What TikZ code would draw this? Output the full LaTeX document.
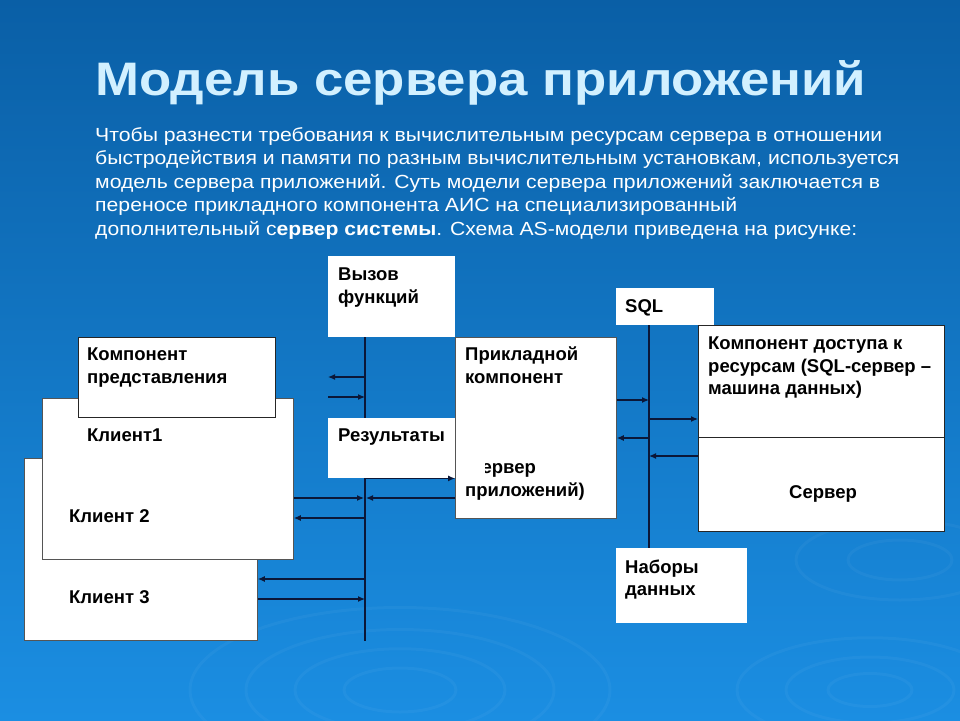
\documentclass[tikz,border=0pt]{standalone}
\usepackage{fontspec}
\setmainfont{Liberation Sans}
\usepackage{graphicx}
\usetikzlibrary{arrows.meta}
\definecolor{bgtop}{HTML}{0A5FA6}
\definecolor{bgbot}{HTML}{1B8EE2}
\definecolor{titlec}{HTML}{D2F0FF}
\definecolor{linec}{HTML}{0B1738}
\definecolor{edgec}{HTML}{555555}
\newcommand{\dtxt}{\fontsize{18.5}{23}\selectfont\bfseries}
\newcommand{\ptxt}{\fontsize{19}{23}\selectfont}
\begin{document}
\begin{tikzpicture}[x=1pt,y=-1pt,
  box/.style={draw=edgec, line width=0.8pt, fill=white, inner sep=0pt, anchor=north west},
  plain/.style={fill=white, inner sep=0pt, anchor=north west},
  darkbox/.style={draw=black!85, line width=1pt, fill=white, inner sep=0pt, anchor=north west},
  lbl/.style={inner sep=0pt, anchor=base west, text=black, font=\dtxt},
  para/.style={inner sep=0pt, anchor=base west, text=white},
  bus/.style={draw=linec, line width=1.4pt},
  arr/.style={draw=linec, line width=1.2pt, -{Latex[length=7pt,width=6pt]}},
  ripple/.style={draw=white, draw opacity=0.035, line width=3pt}
]
% background
\shade[top color=bgtop, bottom color=bgbot] (0,0) rectangle (960,720);
\useasboundingbox (0,0) rectangle (960,720);
\foreach \r in {40,75,110,150}{
  \draw[ripple] (400,690) ellipse ({\r*1.4} and {\r*0.55});
}
\foreach \r in {30,60,95}{
  \draw[ripple] (870,690) ellipse ({\r*1.4} and {\r*0.55});
}
\foreach \r in {40,80}{
  \draw[ripple] (900,560) ellipse ({\r*1.3} and {\r*0.5});
}

% title and paragraph
\node[para, text=titlec] (title) at (95,95)
  {\resizebox{771pt}{\height}{\fontsize{47}{50}\selectfont\bfseries Модель сервера приложений}};
\node[para] (p1) at (95,141) {\resizebox{787pt}{\height}{\ptxt Чтобы разнести требования к вычислительным ресурсам сервера в отношении}};
\node[para] (p2) at (95,164.5) {\resizebox{804pt}{\height}{\ptxt быстродействия и памяти по разным вычислительным установкам, используется}};
\node[para] (p3) at (95,188) {\resizebox{785pt}{\height}{\ptxt модель сервера приложений. Суть модели сервера приложений заключается в}};
\node[para] (p4) at (95,211.5) {\resizebox{642pt}{\height}{\ptxt переносе прикладного компонента АИС на специализированный}};
\node[para] (p5) at (95,235) {\resizebox{762pt}{\height}{\ptxt дополнительный с\textbf{ервер системы}. Схема AS-модели приведена на рисунке:}};

% bus coordinates
\coordinate (bus1) at (365,0);
\coordinate (bus2) at (649,0);

% boxes
\node[box, minimum width=233pt, minimum height=182pt] (kl3) at (24,458) {};
\node[box, minimum width=251pt, minimum height=161pt] (kl1) at (42,398) {};
\node[darkbox, minimum width=197pt, minimum height=80pt] (kp) at (78,337) {};
\node[plain, minimum width=127pt, minimum height=81pt] (vyz) at (328,256) {};
\node[plain, minimum width=98pt, minimum height=37pt] (sql) at (616,288) {};
\node[plain, minimum width=131pt, minimum height=75pt] (nab) at (616,548) {};

% bus lines
\draw[bus] (vyz.south -| bus1) -- (bus1 |- kl3.south);
\draw[bus] (sql.south -| bus2) -- (bus2 |- nab.north);

\node[plain, minimum width=127pt, minimum height=60pt] (rez) at (328,418) {};
\node[box, minimum width=161pt, minimum height=181pt] (prik) at (455,337) {};
\node[darkbox, minimum width=246pt, minimum height=206pt] (dost) at (698,325) {};
\draw[draw=black!85, line width=1pt] (dost.west |- 0,437) -- (dost.east |- 0,437);

% arrows left
\draw[arr] (bus1 |- 0,377) -- (vyz.west |- 0,377);
\draw[arr] (vyz.west |- 0,397) -- (bus1 |- 0,397);
\draw[arr] (bus1 |- rez.south) -- (prik.west |- rez.south);
\draw[arr] (kl1.east |- 0,498) -- ([xshift=-1pt]bus1 |- 0,498);
\draw[arr] (prik.west |- 0,498) -- ([xshift=1pt]bus1 |- 0,498);
\draw[arr] (bus1 |- 0,518) -- (kl1.east |- 0,518);
\draw[arr] (bus1 |- 0,579) -- (kl3.east |- 0,579);
\draw[arr] (kl3.east |- 0,599) -- (bus1 |- 0,599);
% arrows right
\draw[arr] (prik.east |- 0,400) -- (bus2 |- 0,400);
\draw[arr] (bus2 |- 0,419) -- (dost.west |- 0,419);
\draw[arr] (bus2 |- 0,438) -- (prik.east |- 0,438);
\draw[arr] (dost.west |- 0,456) -- (bus2 |- 0,456);

% labels
\node[lbl] (t1a) at (338,280) {Вызов};
\node[lbl] (t1b) at (338,303) {функций};
\node[lbl] (t2a) at (87,360) {Компонент};
\node[lbl] (t2b) at (87,383) {представления};
\node[lbl] (t3) at (87,441) {Клиент1};
\node[lbl] (t4) at (338,441) {Результаты};
\node[lbl] (t5) at (69,522) {Клиент 2};
\node[lbl] (t6) at (69,603) {Клиент 3};
\node[lbl] (t7a) at (465,360) {Прикладной};
\node[lbl] (t7b) at (465,383) {компонент};
\node[lbl] (t7c) at (465,473) {(сервер};
\node[lbl] (t7d) at (465,496) {приложений)};
\fill[white] (457,452) rectangle (485,478);
\node[lbl] (t8) at (625,312) {SQL};
\node[lbl] (t9a) at (708,349) {Компонент доступа к};
\node[lbl] (t9b) at (708,372) {ресурсам (SQL-сервер –};
\node[lbl] (t9c) at (708,394) {машина данных)};
\node[lbl, anchor=base] (t10) at (823,498) {Сервер};
\node[lbl] (t11a) at (625,573) {Наборы};
\node[lbl] (t11b) at (625,595) {данных};
\end{tikzpicture}
\end{document}
